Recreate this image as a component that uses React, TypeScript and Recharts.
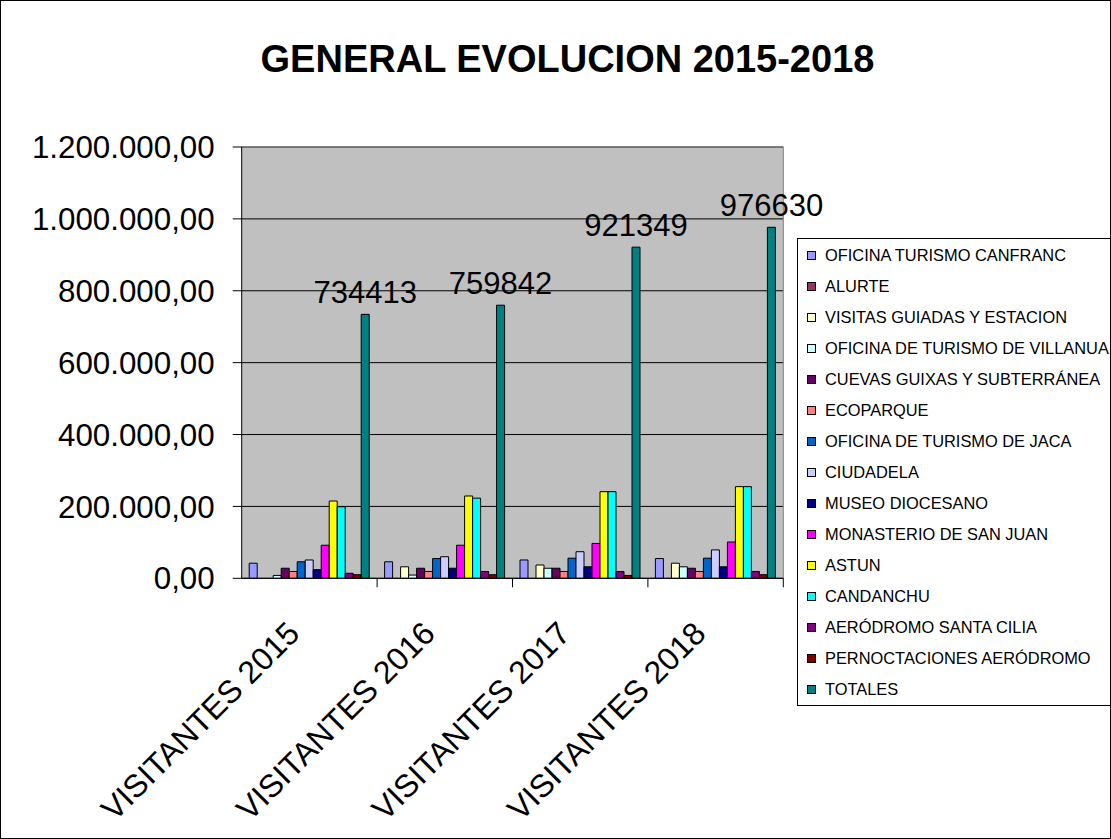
import { BarChart, Bar, XAxis, YAxis, CartesianGrid, Legend, LabelList } from "recharts"

const categories = ["VISITANTES 2015", "VISITANTES 2016", "VISITANTES 2017", "VISITANTES 2018"]

const canfranc = [42000, 46000, 51000, 55000]
const alurte = [0, 0, 0, 0]
const visitasGuiadas = [0, 32000, 37000, 42000]
const villanua = [8000, 9000, 28000, 32000]
const cuevas = [28000, 28000, 28000, 28000]
const ecoparque = [19000, 19000, 19000, 19000]
const jaca = [46000, 55000, 56000, 56000]
const ciudadela = [51000, 60000, 74000, 79000]
const museo = [24000, 28000, 32000, 32000]
const monasterio = [92000, 92000, 97000, 101000]
const astun = [215000, 229000, 241000, 255000]
const candanchu = [199000, 223000, 241000, 255000]
const aerodromo = [14000, 19000, 19000, 19000]
const pernoctaciones = [10000, 10000, 8000, 10000]
const totales = [734413, 759842, 921349, 976630]

const yTicks = [0, 200000, 400000, 600000, 800000, 1000000, 1200000]

const seriesNames = [
  "OFICINA TURISMO CANFRANC",
  "ALURTE",
  "VISITAS GUIADAS Y ESTACION",
  "OFICINA DE TURISMO DE VILLANUA",
  "CUEVAS GUIXAS Y SUBTERRÁNEA",
  "ECOPARQUE",
  "OFICINA DE TURISMO DE JACA",
  "CIUDADELA",
  "MUSEO DIOCESANO",
  "MONASTERIO DE SAN JUAN",
  "ASTUN",
  "CANDANCHU",
  "AERÓDROMO SANTA CILIA",
  "PERNOCTACIONES AERÓDROMO",
  "TOTALES",
]
const seriesValues = [
  canfranc, alurte, visitasGuiadas, villanua, cuevas, ecoparque, jaca, ciudadela,
  museo, monasterio, astun, candanchu, aerodromo, pernoctaciones, totales,
]
const colors = [
  "#9999FF", "#993366", "#FFFFCC", "#CCFFFF", "#660066", "#FF8080", "#0066CC", "#CCCCFF",
  "#000080", "#FF00FF", "#FFFF00", "#00FFFF", "#800080", "#800000", "#008080",
]

const data = categories.map((name, i) => {
  const row: Record<string, string | number> = { name }
  seriesValues.forEach((vals, s) => { row["s" + s] = vals[i] })
  return row
})

const FONT = "'Liberation Sans', Arial, sans-serif"

const fmt = (v: number) =>
  Math.round(v).toString().replace(/\B(?=(\d{3})+(?!\d))/g, ".") + ",00"

function CategoryTick(props: any) {
  const { x, y, payload } = props
  const half = payload && typeof payload.offset === "number" && payload.offset > 0 ? payload.offset : 67.7
  const tx = x - 8
  const ty = y + 57
  return (
    <g>
      <line x1={x + half} y1={y} x2={x + half} y2={y + 9} stroke="#000" strokeWidth={1} />
      <text x={tx} y={ty} textAnchor="end" transform={`rotate(-45, ${tx}, ${ty})`}
        fontSize={32} fontFamily={FONT} fill="#000">
        {payload.value}
      </text>
    </g>
  )
}

function LegendBox(props: any) {
  // keep the series order, not the alphabetical one
  const items = [...(props.payload || [])].sort(
    (a: any, b: any) => seriesNames.indexOf(a.value) - seriesNames.indexOf(b.value)
  )
  return (
    <div style={{ position: "relative", width: 314, height: 468, boxSizing: "border-box",
      border: "1px solid #000", background: "#fff", overflow: "hidden" }}>
      {items.map((it: any, i: number) => (
        <div key={i} style={{ position: "absolute", left: 9, top: 1 + i * 31, height: 31,
          display: "flex", alignItems: "center", whiteSpace: "nowrap" }}>
          <span style={{ display: "inline-block", width: 7, height: 7, background: it.color,
            border: "1px solid #000", marginRight: 9 }} />
          <span style={{ fontFamily: FONT, fontSize: 16.4, color: "#000" }}>{it.value}</span>
        </div>
      ))}
    </div>
  )
}

export default function App() {
  return (
    <div style={{ position: "fixed", left: 0, top: 0, width: 1111, height: 839, background: "#fff" }}>
      <div style={{ position: "absolute", left: 12, top: 40, width: 1111, textAlign: "center",
        fontFamily: FONT, fontWeight: "bold", fontSize: 38, lineHeight: "38px", color: "#000" }}>
        GENERAL EVOLUCION 2015-2018
      </div>
      <BarChart width={1111} height={839} data={data}
        margin={{ top: 147, right: 327.7, left: 0, bottom: 0 }}
        barCategoryGap={7.5} barGap={0}>
        <CartesianGrid fill="#C0C0C0" stroke="#000" vertical={false} />
        <CartesianGrid stroke="#808080"
          horizontalCoordinatesGenerator={({ offset }: any) => [offset.top]}
          verticalCoordinatesGenerator={({ offset }: any) => [offset.left + offset.width]} />
        <XAxis dataKey="name" height={260.7} interval={0} tickSize={0} tickMargin={0}
          tickLine={false} axisLine={{ stroke: "#000" }} tick={<CategoryTick />} />
        <YAxis width={241.7} domain={[0, 1200000]} ticks={yTicks} interval={0}
          tickFormatter={fmt} tickSize={9} tickMargin={18}
          axisLine={{ stroke: "#000" }} tickLine={{ stroke: "#000" }}
          tick={{ fontSize: 31.3, fontFamily: FONT, fill: "#000" }} />
        <Legend layout="horizontal" verticalAlign="middle" align="center"
          wrapperStyle={{ position: "absolute", left: 797, top: 238, width: 314, height: 468 }}
          content={<LegendBox />} />
        {seriesNames.map((n, s) => (
          <Bar key={n} dataKey={"s" + s} name={n} fill={colors[s]} stroke="#000" strokeWidth={1}
            isAnimationActive={false}>
            {s === seriesNames.length - 1 && (
              <LabelList dataKey={"s" + s} position="top" offset={11}
                style={{ fontSize: 31, fontFamily: FONT, fill: "#000" }} />
            )}
          </Bar>
        ))}
      </BarChart>
      <div style={{ position: "absolute", left: 0, top: 0, width: 1111, height: 839, boxSizing: "border-box",
        border: "1px solid #000", pointerEvents: "none" }} />
    </div>
  )
}
